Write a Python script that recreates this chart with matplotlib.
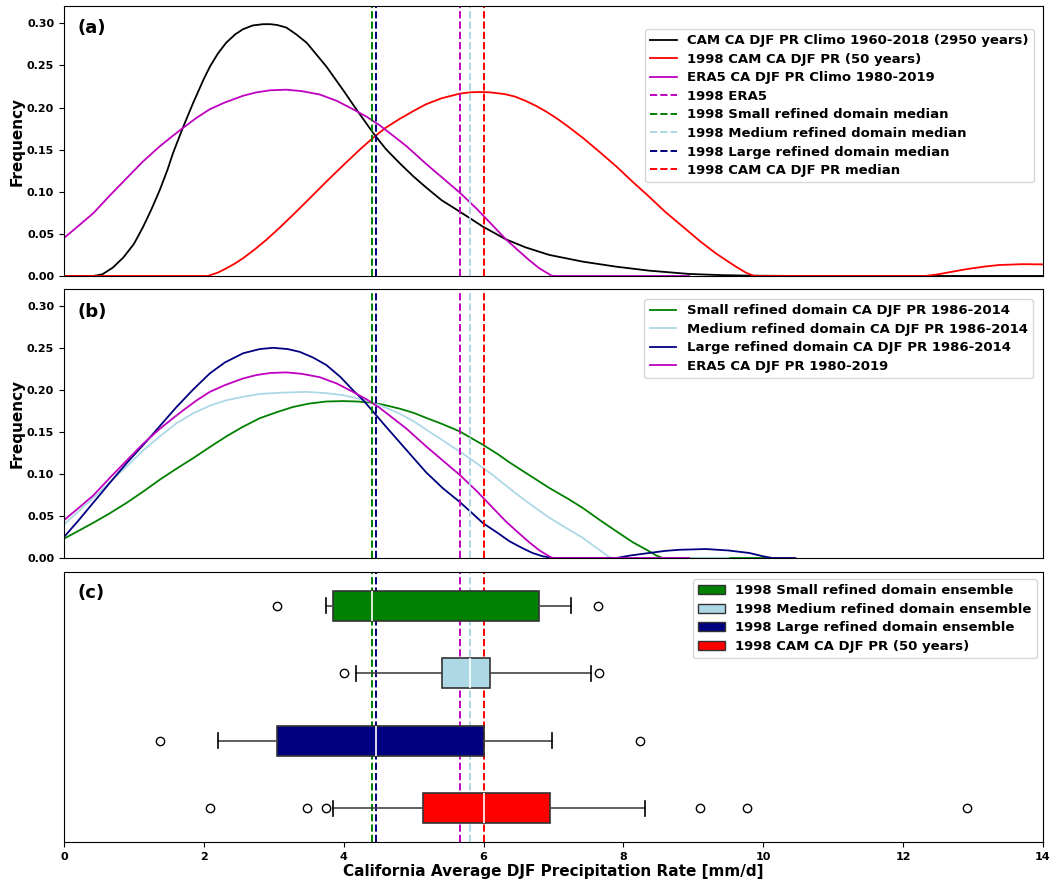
#!/usr/bin/env python3

import matplotlib
matplotlib.use("Agg")
import matplotlib.pyplot as plt
from matplotlib.patches import Patch

plt.rcParams["font.family"] = "DejaVu Sans"
plt.rcParams["font.weight"] = "bold"
plt.rcParams["axes.labelweight"] = "bold"

# ---- panel (a) curves ----
cam_clim_x = [0, 0.42, 0.55, 0.70, 0.85, 1.0, 1.13, 1.25, 1.37, 1.48, 1.56, 1.70, 1.85,
              2.0, 2.09, 2.2, 2.32, 2.45, 2.56, 2.7, 2.85, 2.95, 3.05, 3.18, 3.32, 3.47,
              3.6, 3.75, 3.87, 3.99, 4.18, 4.42, 4.6, 4.80, 5.0, 5.18, 5.4, 5.66, 5.99,
              6.32, 6.6, 6.94, 7.42, 7.9, 8.37, 8.94, 9.4, 9.8, 10.5, 14.0]
cam_clim_y = [0, 0, 0.002, 0.010, 0.022, 0.038, 0.058, 0.079, 0.102, 0.126, 0.146, 0.176,
              0.206, 0.234, 0.249, 0.264, 0.277, 0.287, 0.293, 0.2975, 0.299, 0.299, 0.298,
              0.295, 0.287, 0.277, 0.264, 0.249, 0.235, 0.221, 0.198, 0.170, 0.151, 0.134,
              0.118, 0.105, 0.090, 0.0764, 0.0586, 0.0435, 0.034, 0.025, 0.017, 0.011,
              0.0063, 0.0024, 0.001, 0.0004, 0, 0]

cam98_x = [0, 2.06, 2.2, 2.32, 2.45, 2.56, 2.72, 2.895, 3.08, 3.276, 3.5, 3.752, 4.0,
           4.23, 4.42, 4.6, 4.80, 5.0, 5.18, 5.4, 5.66, 5.8, 5.95, 6.1, 6.3, 6.45, 6.6,
           6.75, 6.9, 7.05, 7.2, 7.42, 7.65, 7.90, 8.13, 8.37, 8.6, 8.85, 9.1, 9.32, 9.5,
           9.61, 9.75, 9.87, 12.32, 12.5, 12.7, 12.9, 13.15, 13.37, 13.7, 14.0]
cam98_y = [0, 0, 0.004, 0.009, 0.015, 0.021, 0.031, 0.043, 0.057, 0.0726, 0.091, 0.112,
           0.132, 0.150, 0.164, 0.176, 0.1865, 0.196, 0.204, 0.211, 0.2165, 0.218, 0.2185,
           0.218, 0.216, 0.213, 0.208, 0.202, 0.195, 0.187, 0.178, 0.164, 0.148, 0.130,
           0.112, 0.094, 0.076, 0.0586, 0.041, 0.027, 0.017, 0.011, 0.004, 0, 0, 0.002,
           0.005, 0.008, 0.011, 0.013, 0.014, 0.0138]

era5_x = [0, 0.2, 0.42, 0.65, 0.895, 1.13, 1.371, 1.55, 1.705, 1.9, 2.086, 2.3, 2.562,
          2.75, 2.95, 3.18, 3.4, 3.657, 3.9, 4.133, 4.33, 4.514, 4.7, 4.9, 5.18, 5.42,
          5.66, 5.9, 6.13, 6.32, 6.5, 6.65, 6.8, 6.97, 7.0, 8.94]
era5_y = [0.045, 0.059, 0.0746, 0.095, 0.116, 0.136, 0.154, 0.166, 0.176, 0.188, 0.198,
          0.206, 0.214, 0.218, 0.2205, 0.2212, 0.2195, 0.2155, 0.208, 0.198, 0.189, 0.179,
          0.167, 0.154, 0.133, 0.116, 0.099, 0.080, 0.060, 0.0435, 0.030, 0.019, 0.009,
          0.0005, 0, 0]

# ---- panel (b) curves ----
small_x = [0, 0.2, 0.42, 0.65, 0.895, 1.13, 1.371, 1.6, 1.848, 2.1, 2.324, 2.55, 2.80,
           3.05, 3.276, 3.5, 3.75, 3.99, 4.2, 4.42, 4.6, 4.80, 5.0, 5.18, 5.4, 5.657,
           5.99, 6.2, 6.37, 6.65, 6.94, 7.2, 7.42, 7.65, 7.90, 8.13, 8.37, 8.47, 8.56, 10.1]
small_y = [0.023, 0.032, 0.042, 0.053, 0.0657, 0.079, 0.0934, 0.106, 0.119, 0.133, 0.145,
           0.156, 0.1666, 0.174, 0.180, 0.184, 0.1865, 0.187, 0.1865, 0.185, 0.182, 0.178,
           0.173, 0.167, 0.160, 0.151, 0.135, 0.124, 0.114, 0.099, 0.0835, 0.071, 0.0596,
           0.046, 0.0318, 0.019, 0.008, 0.003, 0, 0]

medium_x = [0, 0.2, 0.42, 0.65, 0.895, 1.13, 1.371, 1.6, 1.848, 2.1, 2.324, 2.55, 2.80,
            3.1, 3.467, 3.75, 3.99, 4.32, 4.55, 4.80, 5.0, 5.18, 5.42, 5.657, 5.80, 6.13,
            6.37, 6.61, 6.94, 7.2, 7.42, 7.6, 7.8, 7.85, 9.5]
medium_y = [0.040, 0.055, 0.0716, 0.090, 0.109, 0.128, 0.145, 0.160, 0.1725, 0.182, 0.188,
            0.192, 0.1955, 0.197, 0.198, 0.1965, 0.194, 0.188, 0.181, 0.172, 0.163, 0.153,
            0.140, 0.127, 0.119, 0.099, 0.083, 0.0676, 0.048, 0.035, 0.024, 0.013, 0.001,
            0, 0]

large_x = [0, 0.2, 0.42, 0.65, 0.895, 1.18, 1.4, 1.61, 1.85, 2.086, 2.3, 2.562, 2.8,
           2.99, 3.2, 3.37, 3.56, 3.752, 3.95, 4.133, 4.28, 4.42, 4.6, 4.80, 5.0, 5.18,
           5.42, 5.657, 5.83, 5.99, 6.2, 6.37, 6.55, 6.70, 6.85, 6.94, 7.0, 7.9, 8.1, 8.37,
           8.6, 8.8, 9.18, 9.5, 9.8, 10.0, 10.13, 10.46]
large_y = [0.025, 0.044, 0.066, 0.089, 0.113, 0.139, 0.160, 0.180, 0.201, 0.220, 0.233,
           0.244, 0.249, 0.2505, 0.249, 0.2457, 0.239, 0.230, 0.216, 0.200, 0.188, 0.1745,
           0.157, 0.138, 0.119, 0.102, 0.083, 0.067, 0.054, 0.0417, 0.030, 0.020, 0.012,
           0.006, 0.002, 0.0008, 0, 0, 0.003, 0.006, 0.0085, 0.0098, 0.0107, 0.009, 0.006,
           0.002, 0, 0]

# ---- 1998 medians (vertical lines) ----
med_era5 = 5.66
med_small = 4.40
med_medium = 5.80
med_large = 4.46
med_cam = 6.00

# ---- panel (c) box statistics ----
box_names = ["1998 Small refined domain ensemble", "1998 Medium refined domain ensemble",
             "1998 Large refined domain ensemble", "1998 CAM CA DJF PR (50 years)"]
box_colors = ["green", "lightblue", "navy", "red"]
box_pos = [4, 3, 2, 1]
box_med = [4.40, 5.80, 4.46, 6.00]
box_q1 = [3.85, 5.41, 3.05, 5.13]
box_q3 = [6.80, 6.09, 6.00, 6.95]
box_lo = [3.75, 4.18, 2.20, 3.85]
box_hi = [7.25, 7.54, 6.98, 8.31]
box_fliers = [[3.05, 7.63], [4.00, 7.65], [1.38, 8.24],
              [2.09, 3.48, 3.75, 9.09, 9.77, 12.92]]

fig = plt.figure(figsize=(10.52, 8.8), dpi=100)
left, width = 0.0608, 0.9306
ax_a = fig.add_axes([left, 0.6864, width, 0.3068])
ax_b = fig.add_axes([left, 0.3659, width, 0.3057])
ax_c = fig.add_axes([left, 0.0432, width, 0.3068])

lw = 1.3
ax_a.plot(cam_clim_x, cam_clim_y, color="k", lw=lw, label="CAM CA DJF PR Climo 1960-2018 (2950 years)")
ax_a.plot(cam98_x, cam98_y, color="r", lw=lw, label="1998 CAM CA DJF PR (50 years)")
ax_a.plot(era5_x, era5_y, color="m", lw=lw, label="ERA5 CA DJF PR Climo 1980-2019")

ax_b.plot(small_x, small_y, color="green", lw=lw, label="Small refined domain CA DJF PR 1986-2014")
ax_b.plot(medium_x, medium_y, color="lightblue", lw=lw, label="Medium refined domain CA DJF PR 1986-2014")
ax_b.plot(large_x, large_y, color="navy", lw=lw, label="Large refined domain CA DJF PR 1986-2014")
ax_b.plot(era5_x, era5_y, color="m", lw=lw, label="ERA5 CA DJF PR 1980-2019")

vlines = [(med_era5, "m", "1998 ERA5"),
          (med_small, "green", "1998 Small refined domain median"),
          (med_medium, "lightblue", "1998 Medium refined domain median"),
          (med_large, "navy", "1998 Large refined domain median"),
          (med_cam, "red", "1998 CAM CA DJF PR median")]
for ax in (ax_a, ax_b, ax_c):
    for xv, c, lab in vlines:
        ax.axvline(xv, color=c, ls="--", lw=1.4, label=lab if ax is ax_a else None)

# boxplots
stats = []
for i in range(len(box_names)):
    stats.append(dict(med=box_med[i], q1=box_q1[i], q3=box_q3[i],
                      whislo=box_lo[i], whishi=box_hi[i], fliers=box_fliers[i]))
bp = ax_c.bxp(stats, positions=box_pos, widths=0.45, vert=False, patch_artist=True,
              boxprops=dict(edgecolor="#333333", lw=1.2),
              whiskerprops=dict(color="#444444", lw=1.2),
              capprops=dict(color="black", lw=1.2),
              medianprops=dict(color="white", lw=1.2),
              flierprops=dict(marker="o", markerfacecolor="none", markeredgecolor="black",
                              markersize=6))
for patch, c in zip(bp["boxes"], box_colors):
    patch.set_facecolor(c)

yt = [0, 0.05, 0.10, 0.15, 0.20, 0.25, 0.30]
for ax in (ax_a, ax_b):
    ax.set_ylim(0, 0.3206)
    ax.set_xlim(0, 14)
    ax.set_xticks([])
    ax.set_yticks(yt)
    ax.set_yticklabels([f"{v:.2f}" for v in yt])
    ax.set_ylabel("Frequency", fontsize=11, labelpad=2)
    ax.tick_params(axis="y", labelsize=8)

ax_c.set_xlim(0, 14)
ax_c.set_ylim(0.5, 4.5)
ax_c.set_yticks([])
ax_c.set_xticks(range(0, 15, 2))
ax_c.tick_params(axis="x", labelsize=8)
ax_c.set_xlabel("California Average DJF Precipitation Rate [mm/d]", fontsize=11, labelpad=2)

for ax, lab, yy in ((ax_a, "(a)", 0.918), (ax_b, "(b)", 0.916), (ax_c, "(c)", 0.921)):
    ax.text(0.0143, yy, lab, transform=ax.transAxes, fontsize=13, fontweight="bold",
            ha="left", va="center")

leg_kw = dict(loc="upper right", borderaxespad=0, fontsize=9.5, labelspacing=0.42)
ax_a.legend(bbox_to_anchor=(0.9908, 0.9148), **leg_kw)
ax_b.legend(bbox_to_anchor=(0.9898, 0.9628), **leg_kw)
handles = [Patch(facecolor=c, edgecolor="#333333", label=n) for c, n in zip(box_colors, box_names)]
ax_c.legend(handles=handles, bbox_to_anchor=(0.9939, 0.974), **leg_kw)

fig.savefig("out.png", dpi=100)
